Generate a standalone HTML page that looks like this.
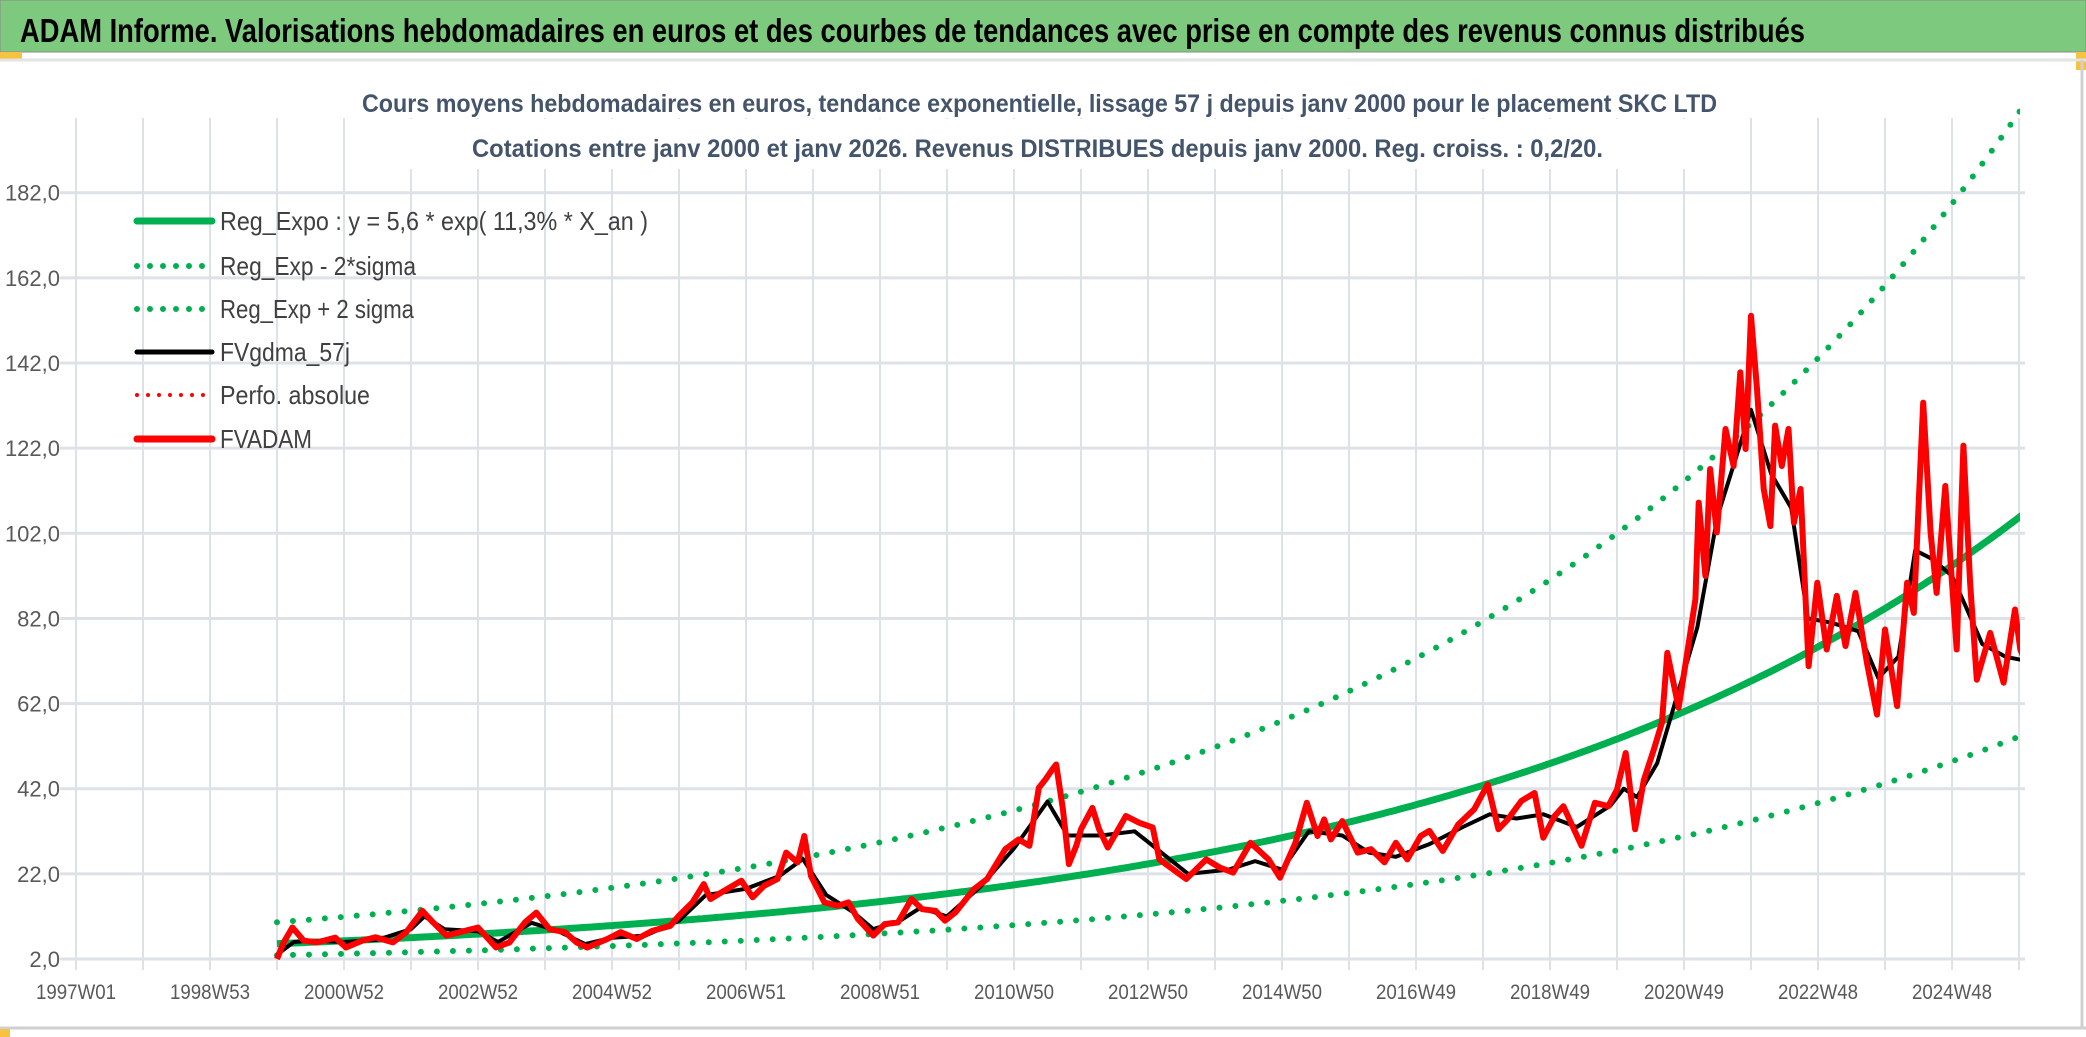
<!DOCTYPE html>
<html><head><meta charset="utf-8"><style>
html,body{margin:0;padding:0;background:#fff;}
svg{display:block;font-family:"Liberation Sans",sans-serif;}
</style></head><body>
<svg id="chart" width="2086" height="1037" viewBox="0 0 2086 1037" xmlns="http://www.w3.org/2000/svg">
<rect x="0" y="0" width="2086" height="1037" fill="#ffffff"/>
<rect x="0" y="0" width="2086" height="52" fill="#7DC97D" stroke="#8a8a8a" stroke-width="1"/>
<rect x="0" y="52" width="22" height="8" fill="#F5C242"/>
<rect x="2076" y="52" width="10" height="18" fill="#F5C242"/>
<line x1="0" y1="60" x2="2086" y2="60" stroke="#e3e3e3" stroke-width="3"/>
<text x="20" y="42" font-size="33" font-weight="bold" fill="#000" textLength="1785" lengthAdjust="spacingAndGlyphs">ADAM Informe. Valorisations hebdomadaires en euros et des courbes de tendances avec prise en compte des revenus connus distribués</text>
<g id="grid"></g>
<rect x="350" y="119" width="1375" height="50" fill="#fff"/>
<rect x="350" y="70" width="1375" height="48" fill="#fff"/>
<text x="362" y="112" font-size="25" font-weight="bold" fill="#44546A" textLength="1355" lengthAdjust="spacingAndGlyphs">Cours moyens hebdomadaires en euros, tendance exponentielle, lissage 57 j depuis janv 2000 pour le placement SKC LTD</text>
<text x="472" y="157" font-size="25" font-weight="bold" fill="#44546A" textLength="1131" lengthAdjust="spacingAndGlyphs">Cotations entre janv 2000 et janv 2026. Revenus DISTRIBUES depuis janv 2000. Reg. croiss. : 0,2/20.</text>
<g id="yaxis"></g>
<g id="xaxis"></g>
<defs><clipPath id="plotclip"><rect x="76" y="100" width="1944" height="862"/></clipPath></defs>
<g id="series" clip-path="url(#plotclip)"></g>
<g id="legend"></g>
<line x1="0" y1="1028" x2="2086" y2="1028" stroke="#d0d0d0" stroke-width="3"/>
<rect x="0" y="1029" width="10" height="8" fill="#F5C242"/>
<line x1="2082" y1="60" x2="2082" y2="1028" stroke="#d0d0d0" stroke-width="3"/>
</svg>
<script>
// ---- data ----
const yTicks = [2,22,42,62,82,102,122,142,162,182];
const yTickLabels = ["2,0","22,0","42,0","62,0","82,0","102,0","122,0","142,0","162,0","182,0"];
const xTickYears = [1997,1999,2001,2003,2005,2007,2009,2011,2013,2015,2017,2019,2021,2023,2025];
const xTickLabels = ["1997W01","1998W53","2000W52","2002W52","2004W52","2006W51","2008W51","2010W50","2012W50","2014W50","2016W49","2018W49","2020W49","2022W48","2024W48"];
const regA = 5.6;
const regRate = 0.113;
const sigmaUp = 1.9;
const sigmaDown = 1.95;
const adamDates = [2000.0,2000.1,2000.23,2000.4,2000.6,2000.87,2001.03,2001.27,2001.47,2001.73,2001.93,2002.17,2002.33,2002.53,2002.73,2003.0,2003.27,2003.47,2003.7,2003.87,2004.07,2004.3,2004.47,2004.63,2004.93,2005.13,2005.37,2005.6,2005.87,2006.0,2006.2,2006.37,2006.47,2006.67,2006.93,2007.1,2007.27,2007.47,2007.6,2007.77,2007.87,2007.97,2008.17,2008.37,2008.53,2008.67,2008.9,2009.07,2009.27,2009.47,2009.63,2009.83,2009.97,2010.13,2010.4,2010.6,2010.87,2011.07,2011.23,2011.37,2011.47,2011.57,2011.63,2011.73,2011.82,2011.93,2012.0,2012.17,2012.27,2012.4,2012.67,2012.87,2013.07,2013.17,2013.37,2013.57,2013.87,2014.07,2014.27,2014.53,2014.8,2014.97,2015.2,2015.37,2015.53,2015.63,2015.73,2015.9,2016.13,2016.33,2016.53,2016.7,2016.87,2017.07,2017.2,2017.4,2017.63,2017.87,2018.07,2018.23,2018.37,2018.57,2018.77,2018.9,2019.07,2019.2,2019.47,2019.67,2019.87,2020.0,2020.13,2020.27,2020.4,2020.55,2020.67,2020.75,2020.92,2021.04,2021.17,2021.22,2021.32,2021.39,2021.49,2021.62,2021.74,2021.84,2021.92,2022.0,2022.09,2022.19,2022.29,2022.36,2022.46,2022.56,2022.64,2022.74,2022.86,2022.99,2023.13,2023.28,2023.41,2023.56,2023.73,2023.88,2024.0,2024.18,2024.33,2024.43,2024.57,2024.68,2024.77,2024.9,2025.0,2025.07,2025.17,2025.27,2025.37,2025.57,2025.77,2025.94,2026.02,2026.12];
const adamValues = [2,5.9,9.4,6.3,5.9,7,4.7,6.3,7.1,5.9,8.3,13.3,10.6,7.5,8.3,9.4,4.7,5.9,10.6,12.9,9,8.3,5.9,4.7,6.7,8.3,6.7,8.6,9.8,12.2,15.3,19.6,16.1,18,20.4,16.5,19.2,20.8,27,24.7,30.9,21.5,15.3,14.5,15.3,11.4,7.5,10.2,10.6,16.1,13.7,13.3,11,13,18.4,20.8,27.8,30.1,28.6,42.2,44.2,46.5,47.7,37.2,24.3,28.6,32.5,37.5,32.5,28.2,35.6,34,32.9,25.4,23.1,20.8,25.4,23.5,22.3,29.3,25.4,21.1,29.3,38.7,30.9,34.8,30.1,34.4,27,27.8,24.7,29.3,25.4,30.9,32.1,27.4,33.6,37.2,43,32.5,34.8,39.1,41,30.5,35.6,37.9,28.6,38.7,37.9,41.8,50.4,32.5,44,51.2,57.5,73.9,61,73.1,86.5,109.2,92,117.1,102.2,126.5,117.8,139.8,121.8,153.1,135.9,112.4,103.7,127.3,117.8,126.5,104.5,112.4,70.8,90.4,74.7,87.3,75.5,88,71.6,59.4,79.4,61.4,90.4,83.3,132.7,102.2,88,113.1,90.4,74.7,122.6,90.4,67.6,78.6,66.9,84.1,74.7,70.8];
const smoothDates = [2000.0,2000.25,2000.5,2001.0,2001.5,2002.0,2002.2,2002.5,2003.0,2003.3,2003.8,2004.2,2004.6,2005.0,2005.5,2006.0,2006.4,2007.0,2007.5,2007.85,2008.2,2008.6,2008.9,2009.3,2009.6,2010.0,2010.5,2011.0,2011.5,2011.8,2012.3,2012.8,2013.2,2013.6,2014.2,2014.6,2015.0,2015.4,2015.9,2016.3,2016.7,2017.2,2017.7,2018.1,2018.5,2018.9,2019.4,2019.9,2020.1,2020.3,2020.6,2020.9,2021.2,2021.5,2021.8,2022.0,2022.3,2022.6,2022.85,2023.2,2023.6,2023.9,2024.2,2024.45,2024.7,2025.0,2025.2,2025.45,2025.8,2026.12];
const smoothValues = [3,6,6.3,6,6.5,9,12,9,8.5,6,10.5,8.5,5.5,7,7.5,11,17,18.5,21.5,25.5,17,13,9,11,14,12,19,28,39,31,31,32,27,22,23,25,23,32,31,27,26,29,33,36,35,36,33,38,42,40,48,64,80,106,121,131,116,108,82,81,79,68,73,98,96,92,85,76,73,72];
const trendStart = 2000.0;
const trendEnd = 2026.1;

// ---- axes ----
const X0 = 76, PXY = 67, Y0 = 959, PXV = 4.257;
function xs(yr){ return X0 + (yr-1997)*PXY; }
function ys(v){ return Y0 - (v-2)*PXV; }
const NS = "http://www.w3.org/2000/svg";
function mk(tag, attrs, parent){ const e=document.createElementNS(NS,tag); for(const k in attrs) e.setAttribute(k,attrs[k]); parent.appendChild(e); return e; }

const grid = document.getElementById('grid');
for(let i=0;i<=29;i++){
  const l = mk('line',{x1:xs(1997+i),x2:xs(1997+i),y1:118,y2:970,stroke:'#DDE1E8','stroke-width':2},grid);
  
  
}
const yaxis = document.getElementById('yaxis');
yTicks.forEach((v,i)=>{
  const l = mk('line',{x1:60,x2:2025,y1:ys(v),y2:ys(v),stroke:'#DDE1E8','stroke-width':3},grid);
  
  
  const t = mk('text',{x:60,y:ys(v)+8,'font-size':22,fill:'#595959','text-anchor':'end'},yaxis);
  t.textContent = yTickLabels[i];
  
  
});
const xaxis = document.getElementById('xaxis');
xTickYears.forEach((yr,i)=>{
  const t = mk('text',{x:xs(yr),y:999,'font-size':21,fill:'#595959','text-anchor':'middle',textLength:80,lengthAdjust:'spacingAndGlyphs'},xaxis);
  t.textContent = xTickLabels[i];
  
  
});

// ---- series ----
const series = document.getElementById('series');
function pathFrom(dates, vals){ return dates.map((d,i)=>(i?'L':'M')+xs(d).toFixed(1)+' '+ys(vals[i]).toFixed(1)).join(' '); }
function trendPath(mult){ let s=''; for(let t=trendStart;t<=trendEnd+1e-9;t+=0.05){ s+=(s?'L':'M')+xs(t).toFixed(1)+' '+ys(regA*Math.exp(regRate*(t-2000))*mult).toFixed(1)+' '; } return s; }
const pUp = mk('path',{d:trendPath(sigmaUp),fill:'none',stroke:'#00B050','stroke-width':6,'stroke-linecap':'round','stroke-dasharray':'0 16'},series);


const pDn = mk('path',{d:trendPath(1/sigmaDown),fill:'none',stroke:'#00B050','stroke-width':6,'stroke-linecap':'round','stroke-dasharray':'0 16'},series);


const pReg = mk('path',{d:trendPath(1),fill:'none',stroke:'#00B050','stroke-width':7},series);


const pSm = mk('path',{d:pathFrom(smoothDates,smoothValues),fill:'none',stroke:'#000','stroke-width':4,'stroke-linejoin':'round'},series);


const pAd = mk('path',{d:pathFrom(adamDates,adamValues),fill:'none',stroke:'#FF0000','stroke-width':6,'stroke-linejoin':'round'},series);



// ---- legend ----
const legend = document.getElementById('legend');
const legItems = [
  ['Reg_Expo : y = 5,6 * exp( 11,3% *  X_an )','#00B050',7,null,221,428],
  ['Reg_Exp - 2*sigma','#00B050',6,'0 13',266,196],
  ['Reg_Exp + 2 sigma','#00B050',6,'0 13',309,194],
  ['FVgdma_57j','#000',5,null,352,130],
  ['Perfo. absolue','#FF0000',4,'0 11',395,150],
  ['FVADAM','#FF0000',7,null,439,92]
];
legItems.forEach(it=>{
  const g = mk('g',{},legend);
  
  
  const a = {x1:137,x2:212,y1:it[4],y2:it[4],stroke:it[1],'stroke-width':it[2],'stroke-linecap':'round'};
  if(it[3]) a['stroke-dasharray']=it[3];
  mk('line',a,g);
  const t = mk('text',{x:220,y:it[4]+9,'font-size':26,fill:'#404040',textLength:it[5],lengthAdjust:'spacingAndGlyphs'},g);
  t.textContent = it[0];
});
</script>
</body></html>
